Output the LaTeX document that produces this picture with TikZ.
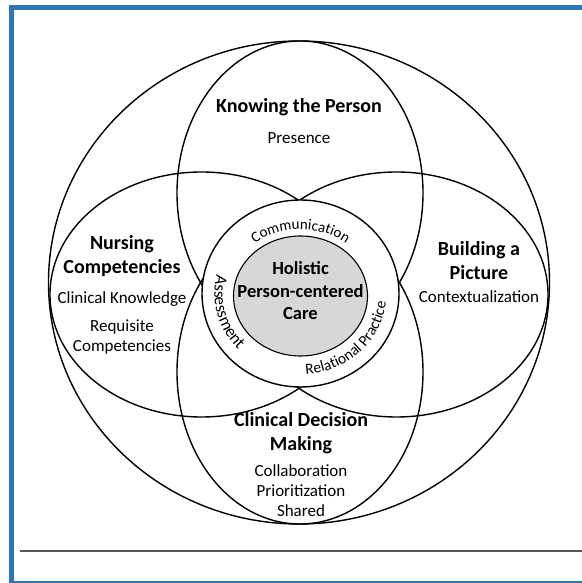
\documentclass[tikz,border=0pt]{standalone}
\usepackage{fontspec}
\setmainfont{Carlito}
\usetikzlibrary{decorations.text}

\definecolor{frameblue}{RGB}{46,117,182}
\definecolor{coregray}{RGB}{215,215,215}
\definecolor{rulegray}{RGB}{85,85,85}

\tikzset{
    loop/.style={draw=black, line width=1.4pt},
    head/.style={font=\fontsize{20}{24}\selectfont\bfseries, align=center, inner sep=0pt},
    sub/.style={font=\fontsize{17}{20}\selectfont, align=center, inner sep=0pt},
    arclabel/.style 2 args={decorate, decoration={text along path, text align=center,
        text={|\fontsize{#1}{#1}\selectfont|#2}}},
}

\begin{document}
\begin{tikzpicture}[x=1pt, y=1pt]
    \useasboundingbox (0,0) rectangle (581,583);

    % Frame and rule
    \draw[frameblue, line width=5pt] (11.5,-1) rectangle (595,575.5);
    \coordinate (ruleL) at (20,32);
    \coordinate (ruleR) at (590,32);
    \draw[rulegray, line width=2pt] (ruleL) -- (ruleR);

    % Centres
    \coordinate (whole) at (299,300.5);
    \coordinate (core) at (300.5,289.5);

    % Outer boundary and the four domains
    \draw[loop] (whole) ellipse[x radius=250.5, y radius=241.5];
    \draw[loop] (300,390) ellipse[x radius=123, y radius=152];
    \draw[loop] (300,211) ellipse[x radius=123, y radius=152];
    \draw[loop] (201.6,288.5) ellipse[x radius=151.6, y radius=122.5];
    \draw[loop] (396.4,288.5) ellipse[x radius=151.6, y radius=122.5];

    % Ring and core
    \draw[loop, fill=white] (core) ellipse[x radius=98.5, y radius=93.5];
    \draw[black, line width=1.1pt, fill=coregray] (300.5,287) ellipse[x radius=67, y radius=60];

    % Ring labels
    \path[arclabel={15}{Communication}] ([shift={(150:74 and 64)}]core)
        arc[start angle=150, end angle=30, x radius=74, y radius=64];
    \path[arclabel={17}{Assessment}] ([shift={(150:86 and 81)}]core)
        arc[start angle=150, end angle=240, x radius=86, y radius=81];
    \path[arclabel={15.5}{Relational Practice}] ([shift={(264:86 and 81)}]core)
        arc[start angle=264, end angle=364, x radius=86, y radius=81];

    % Domain texts
    \node[head, font=\fontsize{18.5}{22.5}\selectfont\bfseries] (holistic) at (300.5,292) {Holistic\\Person-centered\\Care};
    \node[head] (knowing) at (299,476) {Knowing the Person};
    \node[sub] (presence) at (299,445) {Presence};
    \node[head] (nursing) at (122,326.5) {Nursing\\Competencies};
    \node[sub] (knowledge) at (122,284) {Clinical Knowledge};
    \node[sub] (requisite) at (122,245.5) {Requisite\\Competencies};
    \node[head] (picture) at (479,322.5) {Building a\\Picture};
    \node[sub] (context) at (479,286) {Contextualization};
    \node[head] (decision) at (301,149.5) {Clinical Decision\\Making};
    \node[sub] (shared) at (301,92) {Collaboration\\Prioritization\\Shared};
\end{tikzpicture}
\end{document}
